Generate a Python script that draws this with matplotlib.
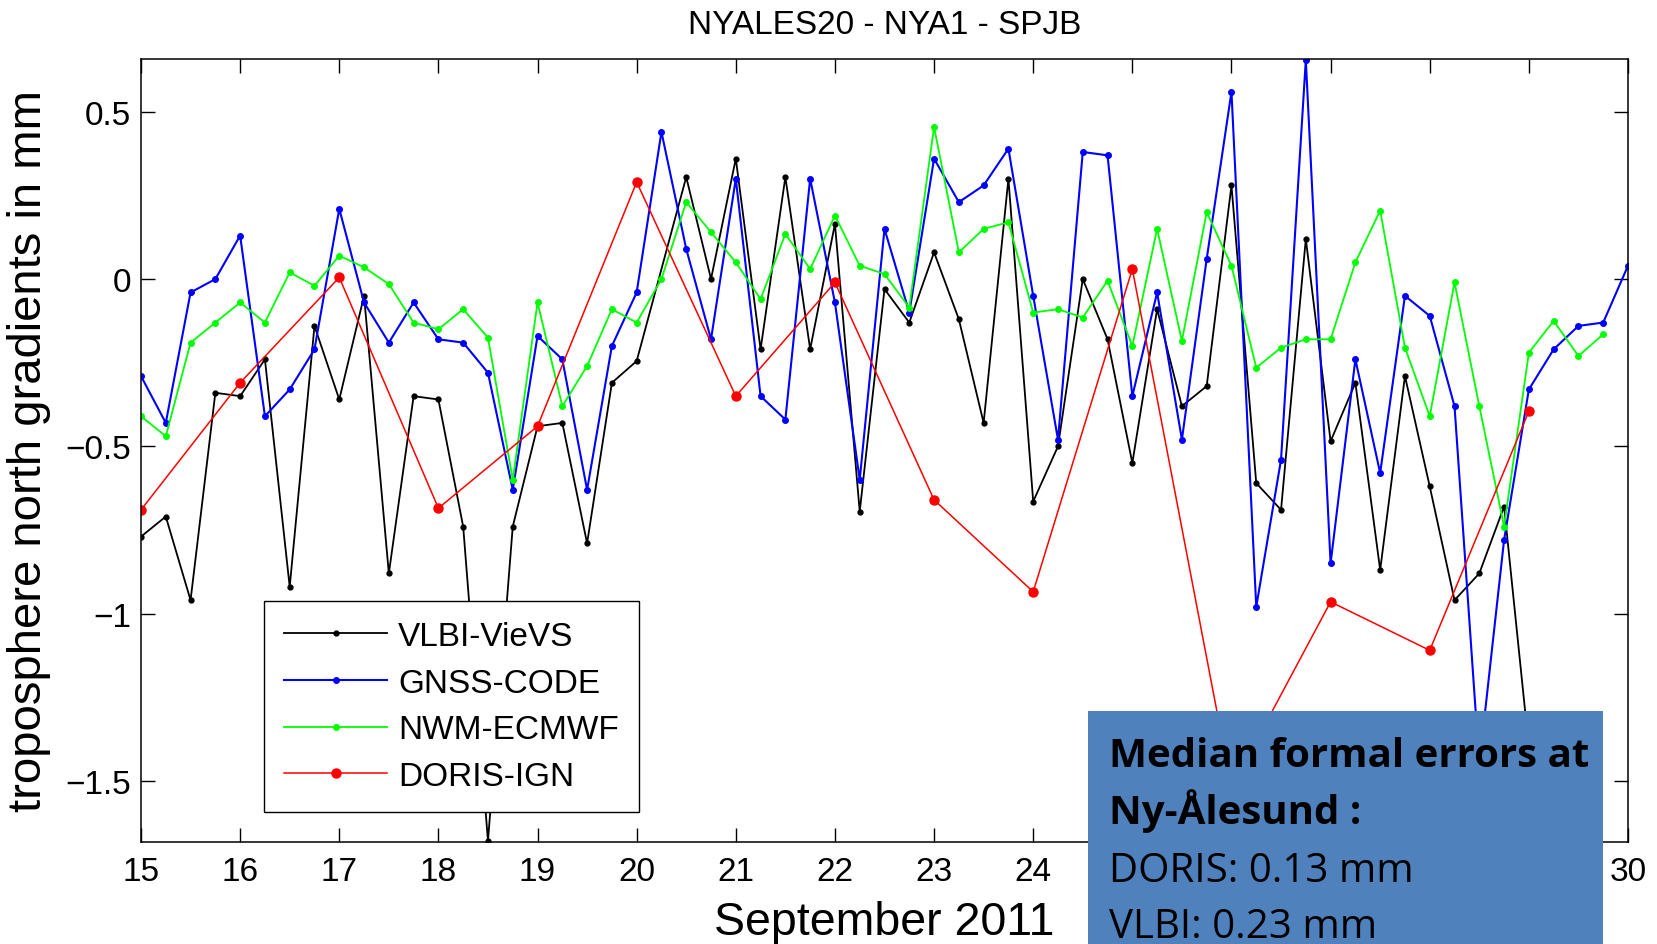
import numpy as np
import matplotlib
matplotlib.use("Agg")
import matplotlib.pyplot as plt
from matplotlib.patches import Rectangle

plt.rcParams['font.family'] = ['Liberation Sans', 'DejaVu Sans']

# days of September 2011
vlbi_t = [15.0, 15.25, 15.5, 15.75, 16.0, 16.25, 16.5, 16.75, 17.0, 17.25, 17.5, 17.75,
          18.0, 18.25, 18.5, 18.75, 19.0, 19.25, 19.5, 19.75, 20.0, 20.5, 20.75,
          21.0, 21.25, 21.5, 21.75, 22.0, 22.25, 22.5, 22.75, 23.0, 23.25, 23.5, 23.75,
          24.0, 24.25, 24.5, 24.75, 25.0, 25.25, 25.5, 25.75, 26.0, 26.25, 26.5, 26.75,
          27.0, 27.25, 27.5, 27.75, 28.0, 28.25, 28.5, 28.75, 29.0]
vlbi = [-0.77, -0.71, -0.96, -0.34, -0.35, -0.24, -0.92, -0.14, -0.36, -0.05, -0.88, -0.35,
        -0.36, -0.74, -1.68, -0.74, -0.44, -0.43, -0.79, -0.31, -0.245, 0.305, 0.0,
        0.36, -0.21, 0.305, -0.21, 0.165, -0.695, -0.03, -0.13, 0.08, -0.12, -0.43, 0.30,
        -0.665, -0.50, 0.0, -0.18, -0.55, -0.09, -0.38, -0.32, 0.28, -0.61, -0.69, 0.12,
        -0.485, -0.31, -0.87, -0.29, -0.62, -0.96, -0.88, -0.68, -1.40]

gnss_t = np.arange(15.0, 30.01, 0.25)
gnss = [-0.29, -0.43, -0.04, 0.0, 0.13, -0.41, -0.33, -0.21, 0.21, -0.07, -0.19, -0.07,
        -0.18, -0.19, -0.28, -0.63, -0.17, -0.24, -0.63, -0.20, -0.04, 0.44, 0.09, -0.18,
        0.30, -0.35, -0.42, 0.30, -0.07, -0.60, 0.15, -0.10, 0.36, 0.23, 0.28, 0.39,
        -0.05, -0.48, 0.38, 0.37, -0.35, -0.04, -0.48, 0.06, 0.56, -0.98, -0.54, 0.655,
        -0.85, -0.24, -0.58, -0.05, -0.11, -0.38, -1.45, -0.78, -0.33, -0.21, -0.14, -0.13,
        0.04]

nwm_t = np.arange(15.0, 29.76, 0.25)
nwm = [-0.41, -0.47, -0.19, -0.13, -0.07, -0.13, 0.02, -0.02, 0.07, 0.035, -0.015, -0.13,
       -0.15, -0.09, -0.175, -0.60, -0.07, -0.38, -0.26, -0.09, -0.13, 0.0, 0.23, 0.14,
       0.05, -0.06, 0.135, 0.03, 0.19, 0.04, 0.015, -0.085, 0.455, 0.08, 0.15, 0.17,
       -0.10, -0.09, -0.115, -0.005, -0.20, 0.15, -0.185, 0.20, 0.04, -0.265, -0.205, -0.18,
       -0.18, 0.05, 0.205, -0.205, -0.41, -0.01, -0.38, -0.74, -0.22, -0.125, -0.23, -0.165]

doris_t = np.arange(15, 30)
doris = [-0.69, -0.31, 0.005, -0.685, -0.44, 0.29, -0.35, -0.01, -0.66, -0.935,
         0.03, -1.52, -0.965, -1.11, -0.395]

box_lines = ["Median formal errors at", "Ny-Ålesund :", "DORIS: 0.13 mm", "VLBI: 0.23 mm"]

W, H = 1657, 945
fig = plt.figure(figsize=(W / 100, H / 100), dpi=100)
ax = fig.add_axes([141 / W, 1 - 843 / H, (1628 - 141) / W, (843 - 60) / H])

ax.plot(vlbi_t, vlbi, '-', color='k', lw=1.3, marker='o', ms=3.5, label='VLBI-VieVS')
ax.plot(gnss_t, gnss, '-', color='#0000FF', lw=1.5, marker='o', ms=4, label='GNSS-CODE')
ax.plot(nwm_t, nwm, '-', color='#00FF00', lw=1.3, marker='o', ms=4, label='NWM-ECMWF')
ax.plot(doris_t, doris, '-', color='#FF0000', lw=1.1, marker='o', ms=6.5, label='DORIS-IGN')

ax.set_xlim(15, 30)
ax.set_ylim(-1.683, 0.658)
ax.set_xticks(range(15, 31))
ax.set_yticks([-1.5, -1, -0.5, 0, 0.5])
ax.set_yticklabels(['\u22121.5', '\u22121', '\u22120.5', '0', '0.5'])
ax.tick_params(direction='in', top=True, right=True, length=10, width=1, labelsize=24)
ax.tick_params(axis='x', pad=10)
ax.tick_params(axis='y', pad=7)
for s in ax.spines.values():
    s.set_linewidth(1.1)

ax.set_title("NYALES20 - NYA1 - SPJB", fontsize=24, pad=19)
ax.set_xlabel("September 2011", fontsize=33.5)
ax.xaxis.set_label_coords(0.5, (843 - 901) / 783)
ax.set_ylabel("troposphere north gradients in mm", fontsize=34)
ax.yaxis.set_label_coords((51 - 141) / 1487, 0.5)

leg = ax.legend(loc='upper left', bbox_to_anchor=(264 / W, 1 - 602 / H),
                bbox_transform=fig.transFigure, borderaxespad=0, fontsize=24,
                handlelength=3.1, handletextpad=0.33, labelspacing=0.47,
                borderpad=0.6, fancybox=False, framealpha=1, edgecolor='k')
leg.get_frame().set_linewidth(1.0)

# blue info box on top of the plot
fig.add_artist(Rectangle((1088 / W, 0), (1603 - 1088) / W, (945 - 712) / H,
                         transform=fig.transFigure, facecolor='#4F81BD',
                         edgecolor='none', zorder=10))
baselines = [767, 824, 882, 938]
for i, txt in enumerate(box_lines):
    fig.text(1109 / W, 1 - baselines[i] / H, txt, fontsize=29, family='Open Sans',
             fontweight='bold' if i < 2 else 'normal', va='baseline', ha='left',
             color='k', zorder=11)

fig.savefig("out.png", dpi=100)
